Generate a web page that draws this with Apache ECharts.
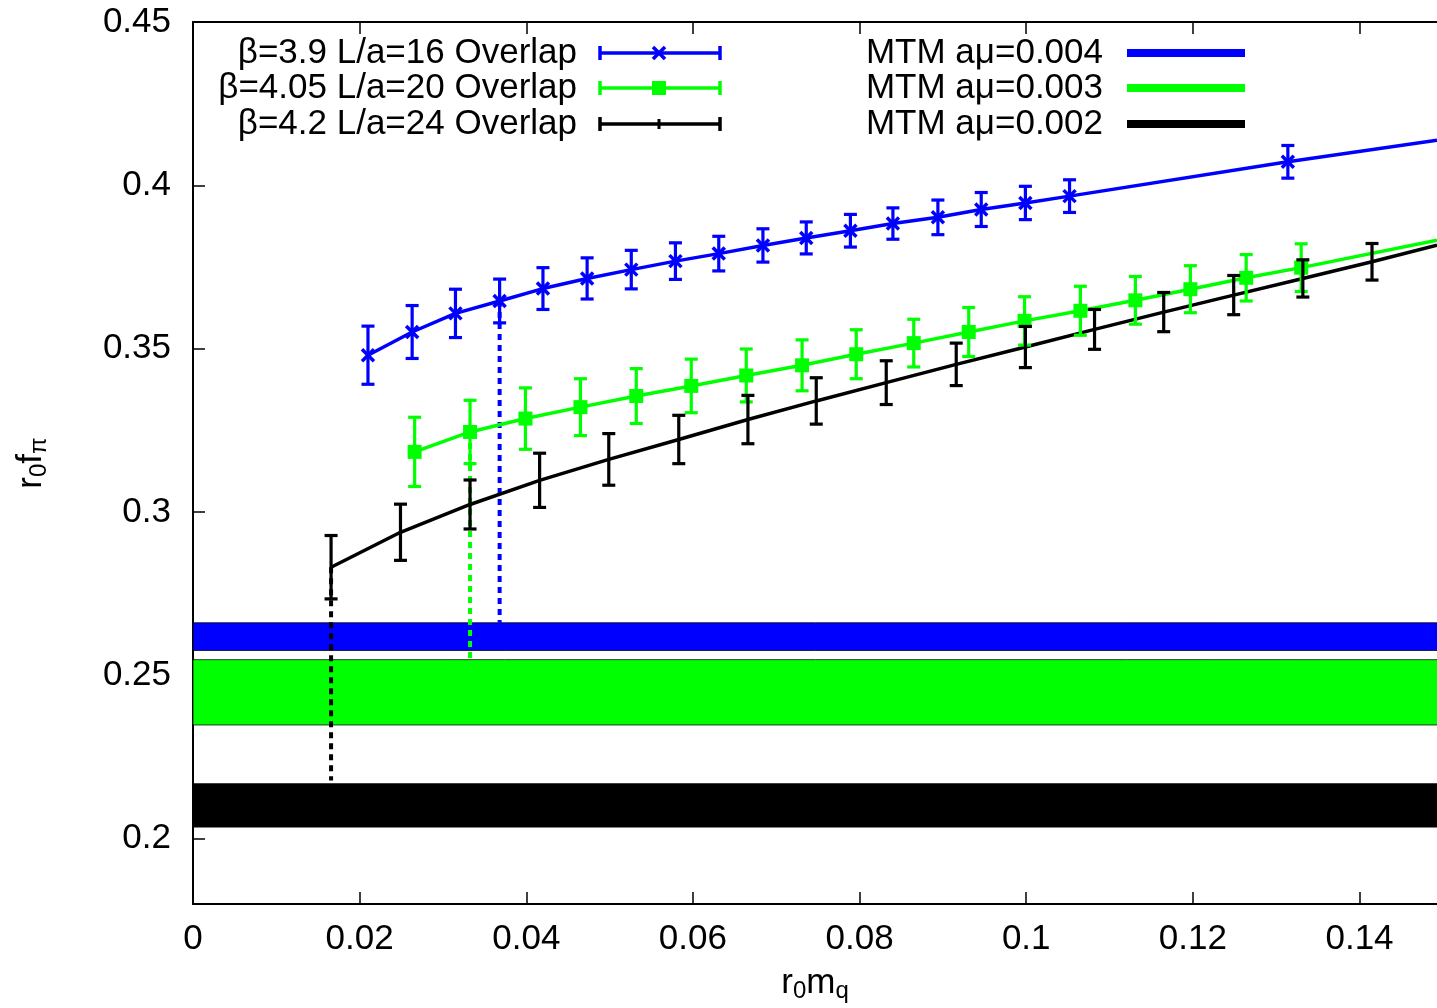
<!DOCTYPE html>
<html>
<head>
<meta charset="utf-8">
<script src="https://cdn.jsdelivr.net/npm/echarts@6/dist/echarts.min.js"></script>
<style>
html, body { margin: 0; padding: 0; background: #fff; }
#chart { width: 1437px; height: 1008px; }
</style>
</head>
<body>
<div id="chart"></div>
<script>
// beta=3.9 L/a=16 overlap
var blueX = [0.0210, 0.0263, 0.0315, 0.0368, 0.0420, 0.0473, 0.0526, 0.0579, 0.0631, 0.0684, 0.0736, 0.0789, 0.0840, 0.0894, 0.0946, 0.0999, 0.1052, 0.1314];
var blueY = [0.3480, 0.3551, 0.3608, 0.3646, 0.3684, 0.3715, 0.3742, 0.3768, 0.3791, 0.3816, 0.3839, 0.3861, 0.3883, 0.3902, 0.3926, 0.3946, 0.3967, 0.4072];
var blueErr = [0.0089, 0.0081, 0.0074, 0.0067, 0.0064, 0.0063, 0.0059, 0.0056, 0.0053, 0.0051, 0.0049, 0.0050, 0.0048, 0.0053, 0.0052, 0.0051, 0.0050, 0.0050];
// beta=4.05 L/a=20 overlap
var greenX = [0.0266, 0.03325, 0.0399, 0.0465, 0.0532, 0.0598, 0.0664, 0.0731, 0.0796, 0.0865, 0.0931, 0.0998, 0.1065, 0.1131, 0.1197, 0.1264, 0.1330];
var greenY = [0.3184, 0.3245, 0.3286, 0.3321, 0.3355, 0.3386, 0.3418, 0.3449, 0.3483, 0.3517, 0.3551, 0.3585, 0.3616, 0.3648, 0.3682, 0.3717, 0.3748];
var greenErr = [0.0106, 0.0097, 0.0094, 0.0087, 0.0084, 0.0082, 0.0081, 0.0078, 0.0075, 0.0073, 0.0075, 0.0074, 0.0075, 0.0073, 0.0072, 0.0071, 0.0073];
// beta=4.2 L/a=24 overlap
var blackX = [0.01657, 0.0249, 0.03325, 0.0416, 0.0499, 0.0583, 0.0666, 0.0748, 0.0832, 0.0916, 0.0999, 0.1082, 0.1165, 0.1249, 0.1332, 0.1415];
var blackY = [0.2831, 0.2938, 0.3023, 0.3097, 0.3161, 0.3222, 0.3283, 0.3340, 0.3396, 0.3452, 0.3505, 0.3559, 0.3612, 0.3664, 0.3715, 0.3766];
var blackErr = [0.0097, 0.0086, 0.0075, 0.0083, 0.0079, 0.0074, 0.0074, 0.0071, 0.0067, 0.0065, 0.0063, 0.0061, 0.0060, 0.0060, 0.0057, 0.0056];
// fit curves run on past the last point to the right edge
var fitEndY = [0.4138, 0.3832, 0.3817];
// MTM bands (a mu = 0.004, 0.003, 0.002)
var mtmNames = ['MTM a\u03bc=0.004', 'MTM a\u03bc=0.003', 'MTM a\u03bc=0.002'];
var mtmLow = [0.2576, 0.2348, 0.2034];
var mtmHigh = [0.2661, 0.2548, 0.2170];
// dotted drops from the matching point down to the band
var dropX = [0.0368, 0.03325, 0.01657];
var dropTop = [0.3646, 0.3245, 0.2831];
var dropBottom = [0.2661, 0.2548, 0.2178];

var overlapNames = ['\u03b2=3.9 L/a=16 Overlap', '\u03b2=4.05 L/a=20 Overlap', '\u03b2=4.2 L/a=24 Overlap'];
var colors = ['#0000ff', '#00ff00', '#000000'];
var xTicks = [0, 0.02, 0.04, 0.06, 0.08, 0.1, 0.12, 0.14];
var yTicks = [0.2, 0.25, 0.3, 0.35, 0.4, 0.45];
// the picture is cut just short of x = 0.15
var xMin = 0, xMax = 0.1493, yMin = 0.18, yMax = 0.45;

var FONT = '"Liberation Sans", Arial, Helvetica, sans-serif';
var FS = 35;
var chart = echarts.init(document.getElementById('chart'));

function zip(a, b, c) {
	var out = [];
	for (var i = 0; i < a.length; i++) {
		out.push(c ? [a[i], b[i], c[i]] : [a[i], b[i]]);
	}
	return out;
}

function markerShapes(kind, cx, cy, color) {
	if (kind === 'cross') {
		return [
			{type: 'line', shape: {x1: cx - 6, y1: cy - 6, x2: cx + 6, y2: cy + 6}, style: {stroke: color, lineWidth: 3.5}},
			{type: 'line', shape: {x1: cx - 6, y1: cy + 6, x2: cx + 6, y2: cy - 6}, style: {stroke: color, lineWidth: 3.5}}
		];
	}
	if (kind === 'square') {
		return [{type: 'rect', shape: {x: cx - 7, y: cy - 7, width: 14, height: 14}, style: {fill: color}}];
	}
	return [];
}

var errorBars = function (color, kind) {
	return function (params, api) {
		var x = api.value(0), y = api.value(1), e = api.value(2);
		var p = api.coord([x, y]);
		var hi = api.coord([x, y + e]);
		var lo = api.coord([x, y - e]);
		var st = {stroke: color, lineWidth: 3.2};
		var children = [
			{type: 'line', shape: {x1: p[0], y1: hi[1], x2: p[0], y2: lo[1]}, style: st},
			{type: 'line', shape: {x1: p[0] - 6.5, y1: hi[1], x2: p[0] + 6.5, y2: hi[1]}, style: st},
			{type: 'line', shape: {x1: p[0] - 6.5, y1: lo[1], x2: p[0] + 6.5, y2: lo[1]}, style: st}
		];
		return {type: 'group', children: children.concat(markerShapes(kind, p[0], p[1], color))};
	};
};

var bandRender = function (params, api) {
	var i = params.dataIndex;
	var a = api.coord([xMin, api.value(1)]);
	var b = api.coord([xMax, api.value(0)]);
	return {
		type: 'rect',
		shape: {x: a[0], y: a[1], width: b[0] - a[0] + 4, height: b[1] - a[1]},
		style: {fill: colors[i], stroke: i === 2 ? null : 'rgba(0,0,0,0.75)', lineWidth: 1}
	};
};

var series = [];
series.push({
	type: 'custom',
	z: 1,
	silent: true,
	renderItem: bandRender,
	data: zip(mtmLow, mtmHigh)
});
for (var d = 0; d < 3; d++) {
	series.push({
		type: 'line',
		z: 2,
		silent: true,
		symbol: 'none',
		lineStyle: {color: colors[d], width: 4, type: [6, 5]},
		data: [[dropX[d], dropTop[d]], [dropX[d], dropBottom[d]]]
	});
}
var sets = [
	{x: blueX, y: blueY, e: blueErr, kind: 'cross'},
	{x: greenX, y: greenY, e: greenErr, kind: 'square'},
	{x: blackX, y: blackY, e: blackErr, kind: 'none'}
];
sets.forEach(function (s, i) {
	var fit = zip(s.x, s.y);
	fit.push([xMax, fitEndY[i]]);
	series.push({
		name: overlapNames[i],
		type: 'line',
		z: 3,
		silent: true,
		symbol: 'none',
		lineStyle: {color: colors[i], width: 3.5},
		data: fit
	});
	series.push({
		type: 'custom',
		z: 4,
		silent: true,
		renderItem: errorBars(colors[i], s.kind),
		encode: {x: 0, y: 1},
		data: zip(s.x, s.y, s.e)
	});
});

// key, drawn as plain graphics
var legend = [];
var rowY = [53, 88, 124];
for (var r = 0; r < 3; r++) {
	var ty = rowY[r];
	var c = colors[r];
	legend.push({type: 'text', style: {text: overlapNames[r], x: 577, y: ty, align: 'right', verticalAlign: 'middle', fontSize: FS, fontFamily: FONT, fill: '#000'}});
	legend.push({type: 'line', shape: {x1: 600, y1: ty, x2: 720, y2: ty}, style: {stroke: c, lineWidth: 3.5}});
	legend.push({type: 'line', shape: {x1: 600, y1: ty - 7, x2: 600, y2: ty + 7}, style: {stroke: c, lineWidth: 3.5}});
	legend.push({type: 'line', shape: {x1: 720, y1: ty - 7, x2: 720, y2: ty + 7}, style: {stroke: c, lineWidth: 3.5}});
	if (r === 2) {
		legend.push({type: 'line', shape: {x1: 659, y1: ty - 5, x2: 659, y2: ty + 5}, style: {stroke: c, lineWidth: 3}});
	} else {
		markerShapes(sets[r].kind, 659, ty, c).forEach(function (m) { legend.push(m); });
	}
	legend.push({type: 'text', style: {text: mtmNames[r], x: 1103, y: ty, align: 'right', verticalAlign: 'middle', fontSize: FS, fontFamily: FONT, fill: '#000'}});
	legend.push({type: 'rect', shape: {x: 1127, y: ty - 4, width: 118, height: 8}, style: {fill: c}});
}

var subRich = {
	m: {fontSize: FS, fontFamily: FONT, color: '#000', lineHeight: 40},
	s: {fontSize: 24, fontFamily: FONT, color: '#000', lineHeight: 24, verticalAlign: 'bottom'}
};
var numLabel = function (v) { return String(+v.toFixed(4)); };
var lineBlack = {color: '#000', width: 2};

var option = {
	animation: false,
	backgroundColor: '#fff',
	textStyle: {fontFamily: FONT},
	grid: {left: 193, top: 22, right: 0, bottom: 104},
	xAxis: [{
		type: 'value',
		position: 'bottom',
		min: xMin,
		max: xMax,
		name: '{m|r}{s|0}{m|m}{s|q}',
		nameLocation: 'middle',
		nameGap: 59,
		nameTextStyle: {rich: subRich},
		axisLine: {lineStyle: lineBlack},
		axisTick: {inside: true, length: 12, customValues: xTicks, lineStyle: {color: '#000', width: 1.5}},
		axisLabel: {customValues: xTicks, formatter: numLabel, color: '#000', fontSize: FS, fontFamily: FONT, margin: 18},
		splitLine: {show: false}
	}, {
		type: 'value',
		position: 'top',
		min: xMin,
		max: xMax,
		axisLine: {lineStyle: lineBlack},
		axisTick: {inside: true, length: 12, customValues: xTicks, lineStyle: {color: '#000', width: 1.5}},
		axisLabel: {show: false},
		splitLine: {show: false}
	}],
	yAxis: [{
		type: 'value',
		position: 'left',
		min: yMin,
		max: yMax,
		name: '{m|r}{s|0}{m|f}{s|\u03c0}',
		nameLocation: 'middle',
		nameGap: 142,
		nameTextStyle: {rich: subRich},
		axisLine: {lineStyle: lineBlack},
		axisTick: {inside: true, length: 12, customValues: yTicks, lineStyle: {color: '#000', width: 1.5}},
		axisLabel: {customValues: yTicks, formatter: numLabel, color: '#000', fontSize: FS, fontFamily: FONT, margin: 22},
		splitLine: {show: false}
	}, {
		type: 'value',
		position: 'right',
		offset: -6,
		min: yMin,
		max: yMax,
		axisLine: {show: false},
		axisTick: {inside: true, length: 6, customValues: yTicks, lineStyle: {color: '#000', width: 1.5}},
		axisLabel: {show: false},
		splitLine: {show: false}
	}],
	graphic: legend,
	series: series
};
chart.setOption(option);
</script>
</body>
</html>
